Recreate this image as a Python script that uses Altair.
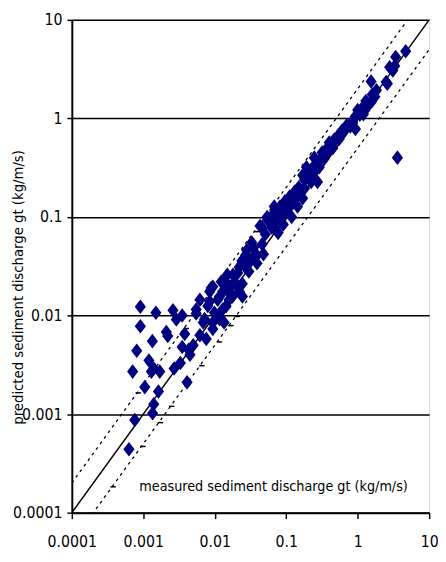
import altair as alt
import pandas as pd

FONT = "Liberation Sans Narrow, Arial Narrow, DejaVu Sans Condensed, sans-serif"

# measured (x) and predicted (y) sediment discharge gt (kg/m/s)
measured = [
    0.00063, 0.00076, 0.00135, 0.0014, 0.00105, 0.00163, 0.0041, 0.00071, 0.0013, 0.0017,
    0.0014, 0.0027, 0.0033, 0.0012, 0.00081, 0.00134, 0.0021, 0.0022, 0.00091, 0.00091,
    0.0015, 0.0026, 0.0035, 0.0029, 0.0038, 0.0035, 0.0043, 0.0045, 0.005, 0.0062,
    0.0076, 0.0069, 0.0055, 0.0055, 0.0062, 0.0085, 0.0094, 0.0117, 0.0094, 0.0072,
    0.0094, 0.0135, 0.0129, 0.0099, 0.008, 0.0085, 0.0144, 0.0117, 0.0159, 0.016,
    0.011, 0.0129, 0.0089, 0.0123, 0.0135, 0.0159, 0.0177, 0.022, 0.0244, 0.0196,
    0.0243, 0.018, 0.022, 0.015, 0.018, 0.021, 0.022, 0.027, 0.030, 0.039,
    0.024, 0.027, 0.0285, 0.028, 0.039, 0.048, 0.035, 0.033, 0.046, 0.051,
    0.046, 0.063, 0.062, 0.074, 0.077, 0.043, 0.056, 0.07, 0.091, 0.054,
    0.066, 0.077, 0.082, 0.068, 0.082, 0.07, 0.096, 0.119, 0.096, 0.118,
    0.144, 0.112, 0.138, 0.17, 0.131, 0.154, 0.18, 0.223, 0.274, 0.18,
    0.17, 0.21, 0.192, 0.29, 0.247, 0.247, 0.34, 0.318, 0.38, 0.36,
    0.39, 0.40, 0.46, 0.47, 0.54, 0.51, 0.63, 0.79, 0.93, 0.85,
    0.85, 0.93, 1.0, 1.2, 1.07, 1.15, 1.27, 1.41, 1.56, 1.74,
    1.83, 1.54, 2.6, 2.5, 2.8, 3.1, 3.3, 3.4, 4.7, 3.6,
    0.6, 0.7, 0.45, 0.3, 0.26, 0.22, 0.15, 0.12, 0.1, 0.09,
    0.035, 0.03, 1.3, 1.6, 0.55,
]
predicted = [
    0.00044, 0.00087, 0.00102, 0.00126, 0.00188, 0.0017, 0.0021, 0.0027, 0.0027, 0.0027,
    0.0029, 0.0029, 0.0033, 0.0035, 0.0044, 0.0055, 0.0068, 0.0062, 0.0078, 0.0123,
    0.0107, 0.0113, 0.0100, 0.0091, 0.0065, 0.0048, 0.0045, 0.0040, 0.005, 0.0063,
    0.0058, 0.0085, 0.0105, 0.0115, 0.0145, 0.0175, 0.0196, 0.0092, 0.0073, 0.0092,
    0.0085, 0.0085, 0.0115, 0.0107, 0.0125, 0.0139, 0.0124, 0.0156, 0.0145, 0.0168,
    0.0145, 0.0175, 0.019, 0.022, 0.022, 0.0197, 0.0156, 0.0196, 0.0156, 0.021,
    0.021, 0.021, 0.0175, 0.026, 0.026, 0.027, 0.031, 0.031, 0.034, 0.034,
    0.036, 0.041, 0.039, 0.046, 0.041, 0.042, 0.049, 0.055, 0.053, 0.067,
    0.078, 0.078, 0.085, 0.072, 0.069, 0.081, 0.091, 0.091, 0.084, 0.10,
    0.107, 0.10, 0.098, 0.128, 0.128, 0.114, 0.114, 0.10, 0.144, 0.133,
    0.128, 0.161, 0.155, 0.155, 0.18, 0.18, 0.195, 0.227, 0.227, 0.238,
    0.265, 0.286, 0.32, 0.32, 0.333, 0.40, 0.39, 0.45, 0.45, 0.47,
    0.52, 0.57, 0.57, 0.61, 0.66, 0.64, 0.72, 0.83, 0.78, 0.94,
    0.90, 1.05, 1.22, 1.1, 1.09, 1.27, 1.22, 1.37, 1.48, 1.66,
    1.93, 2.37, 2.25, 2.34, 3.3, 3.06, 3.4, 4.2, 4.8, 0.40,
    0.75, 0.85, 0.5, 0.38, 0.3, 0.26, 0.2, 0.15, 0.12, 0.1,
    0.04, 0.028, 1.5, 1.75, 0.62,
]

# small dash markers
dash_x = [0.000378, 0.00085, 0.00099, 0.00174, 0.0025, 0.004, 0.0066, 0.0116, 0.0168, 0.0207, 0.0387]
dash_y = [0.000183, 0.00164, 0.00047, 0.00082, 0.0012, 0.0074, 0.0031, 0.0054, 0.0079, 0.0098, 0.071]

# reference lines y = k * x
line_x = [0.0001, 10]
line_k = [1, 2, 0.5]
line_name = ["equal", "upper", "lower"]

ticks = [0.0001, 0.001, 0.01, 0.1, 1, 10]

pts = pd.DataFrame({"measured": measured, "predicted": predicted})
dashes = pd.DataFrame({"measured": dash_x, "predicted": dash_y})
rows = []
for k, n in zip(line_k, line_name):
    for x in line_x:
        rows.append({"measured": x, "predicted": k * x, "line": n})
lines = pd.DataFrame(rows)

xscale = alt.Scale(type="log", domain=[0.0001, 10], nice=False)
yscale = alt.Scale(type="log", domain=[0.0001, 10], nice=False)

xaxis = alt.Axis(
    values=ticks, format="~g", grid=False, tickSize=6, tickColor="black", tickWidth=1.5,
    domainColor="black", domainWidth=2, labelFontSize=16, labelPadding=15,
    labelColor="black", labelFont=FONT,
    title="measured sediment discharge gt (kg/m/s)", titleFont=FONT, titleFontSize=14.5,
    titleFontWeight="normal", titleColor="black", titleX=205, titleY=-27,
    titleAlign="center", titleBaseline="middle", labelFlush=False,
)
yaxis = alt.Axis(
    values=ticks, format="~g", grid=True, gridColor="black", gridWidth=1.5,
    tickSize=5, tickColor="black", tickWidth=1.5, domainColor="black", domainWidth=2,
    labelFontSize=16, labelPadding=5, labelColor="black", labelFont=FONT,
    title="predicted sediment discharge gt (kg/m/s)", titleFont=FONT, titleFontSize=15,
    titleFontWeight="normal", titleColor="black", titleX=-55, titleY=272,
    titleAlign="center", titleBaseline="middle", labelFlush=False,
)

x = alt.X("measured:Q", scale=xscale, axis=xaxis)
y = alt.Y("predicted:Q", scale=yscale, axis=yaxis)

solid = alt.Chart(lines[lines.line == "equal"]).mark_line(
    color="black", strokeWidth=1.5, clip=True
).encode(x=x, y=y)

dotted = alt.Chart(lines[lines.line != "equal"]).mark_line(
    color="black", strokeWidth=1.3, strokeDash=[3, 4], clip=True
).encode(x=x, y=y, detail="line:N")

dash_marks = alt.Chart(dashes).mark_point(
    shape="M-1,0L1,0", size=30, filled=False, stroke="black", strokeWidth=1.5, opacity=1
).encode(x=x, y=y)

diamonds = alt.Chart(pts).mark_point(
    shape="M0,-1.3L1,0L0,1.3L-1,0Z", size=130, filled=True, color="#000080",
    opacity=1, strokeWidth=0
).encode(x=x, y=y)

chart = alt.layer(solid, dotted, dash_marks, diamonds).properties(
    width=364, height=502,
    autosize=alt.AutoSizeParams(type="none"),
    padding={"left": 65, "top": 7, "right": 9, "bottom": 37},
).configure_view(stroke="black", strokeWidth=1.5).configure(font=FONT)

chart.save("out.html", embed_options={"renderer": "svg", "actions": False})
